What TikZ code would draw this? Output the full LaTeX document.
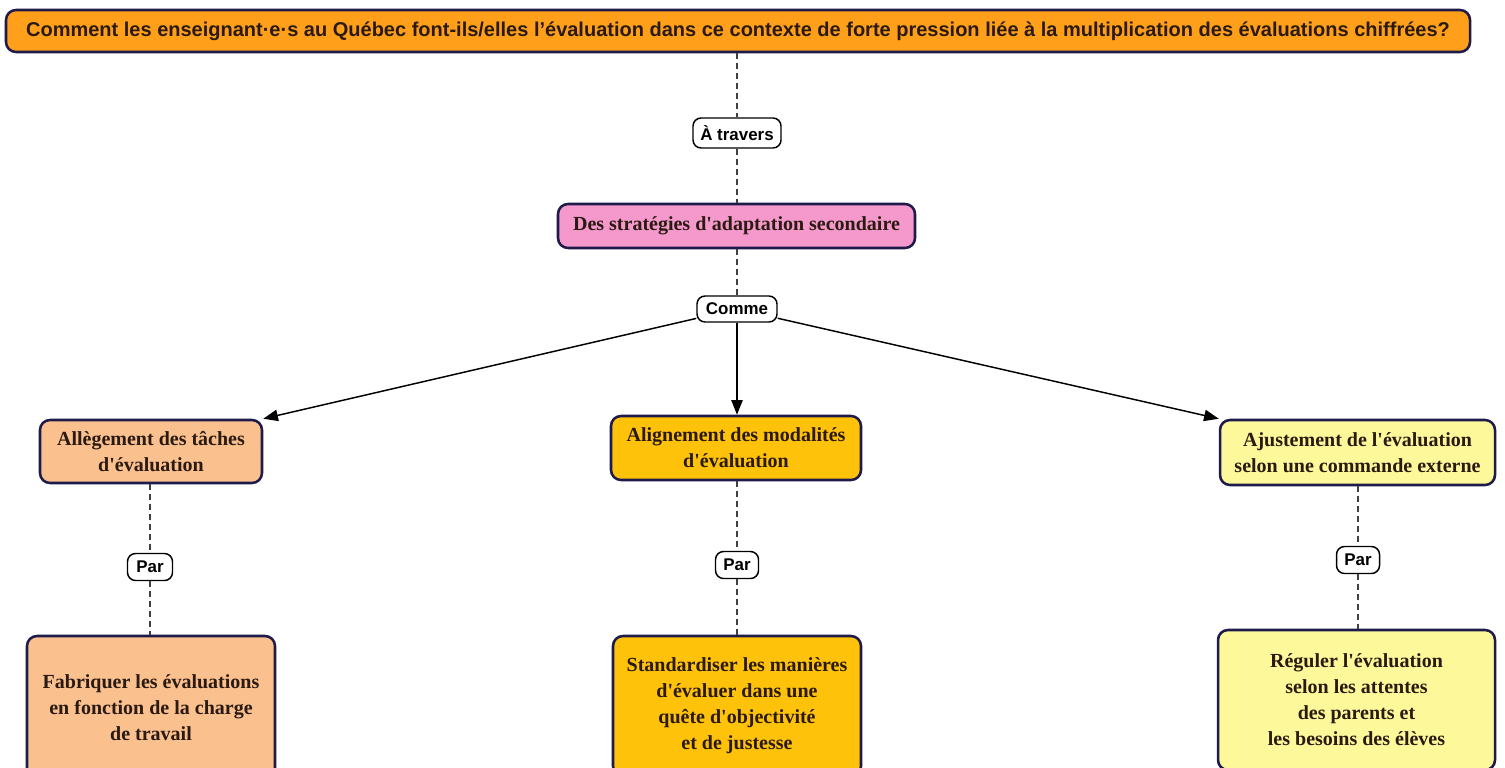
\documentclass[tikz,border=0pt]{standalone}
\usepackage{fontspec}
\setmainfont{Liberation Serif}
\setsansfont{Liberation Sans}
\usetikzlibrary{arrows.meta}
\newcommand\ap{\textquotesingle}
\definecolor{navy}{HTML}{1E1A4A}
\definecolor{qorange}{HTML}{FF9F1A}
\definecolor{qpink}{HTML}{F598CB}
\definecolor{qpeach}{HTML}{FAC08E}
\definecolor{qgold}{HTML}{FFC20A}
\definecolor{qyellow}{HTML}{FDF99A}
\definecolor{qtext}{HTML}{2A1A12}
\definecolor{dashgray}{HTML}{404040}
\tikzset{
  concept/.style={draw=navy, line width=1.9pt, rounded corners=7.5pt, align=center,
    text=qtext, font=\fontsize{15pt}{19.5pt}\selectfont\bfseries, inner sep=0pt},
  linkbox/.style={draw=black, line width=1.1pt, rounded corners=6pt, fill=white,
    font=\sffamily\bfseries\fontsize{12.7pt}{14pt}\selectfont, inner sep=0pt},
  dashlink/.style={draw=dashgray, line width=1.1pt, dash pattern=on 4.5pt off 3pt},
  arrowlink/.style={draw=black, line width=1.1pt, -{Triangle[length=11pt,width=8.5pt]}}
}
\begin{document}
\begin{tikzpicture}[x=0.75pt,y=-0.75pt]
\useasboundingbox (0,0) rectangle (1505,767);
\clip (0,0) rectangle (1505,767);
\fill[white] (0,0) rectangle (1505,767);
% top question
\node[concept, fill=qorange, font=\sffamily\bfseries\fontsize{15pt}{16pt}\selectfont,
  minimum width={1464*0.75pt}, minimum height={42*0.75pt}] (q) at (738,31)
  {Comment les enseignant·e·s au Québec font-ils/elles l’évaluation dans ce contexte de forte pression liée à la multiplication des évaluations chiffrées?};
\node[linkbox, minimum width={88*0.75pt}, minimum height={30*0.75pt}] (at) at (737,133) {À travers};
\node[concept, fill=qpink, minimum width={357*0.75pt}, minimum height={44*0.75pt}] (s) at (736.5,226) {Des stratégies d\ap adaptation secondaire};
\node[linkbox, minimum width={80*0.75pt}, minimum height={26*0.75pt}] (comme) at (737,309) {Comme};
% second row
\node[concept, fill=qpeach, minimum width={222*0.75pt}, minimum height={63*0.75pt}] (a1) at (151,451.5) {Allègement des tâches\\d\ap évaluation};
\node[concept, fill=qgold, minimum width={250*0.75pt}, minimum height={64*0.75pt}] (a2) at (736,448) {Alignement des modalités\\d\ap évaluation};
\node[concept, fill=qyellow, minimum width={275*0.75pt}, minimum height={65*0.75pt}] (a3) at (1357.5,452.5) {Ajustement de l\ap évaluation\\selon une commande externe};
% par labels
\node[linkbox, minimum width={45*0.75pt}, minimum height={27*0.75pt}] (p1) at (150,567) {Par};
\node[linkbox, minimum width={43*0.75pt}, minimum height={27*0.75pt}] (p2) at (737,565) {Par};
\node[linkbox, minimum width={43*0.75pt}, minimum height={27*0.75pt}] (p3) at (1358,560) {Par};
% bottom row
\node[concept, fill=qpeach, minimum width={248*0.75pt}, minimum height={144*0.75pt}] (b1) at (151,708) {Fabriquer les évaluations\\en fonction de la charge\\de travail};
\node[concept, fill=qgold, minimum width={248*0.75pt}, minimum height={140*0.75pt}] (b2) at (737,706) {Standardiser les manières\\d\ap évaluer dans une\\quête d\ap objectivité\\et de justesse};
\node[concept, fill=qyellow, minimum width={277*0.75pt}, minimum height={140*0.75pt}] (b3) at (1356.5,700) {Réguler l\ap évaluation\\selon les attentes\\des parents et\\les besoins des élèves};
% connectors
\draw[dashlink] (q.south -| at) -- (at.north);
\draw[dashlink] (at.south) -- (s.north -| at);
\draw[dashlink] (s.south -| comme) -- (comme.north);
\draw[arrowlink] (comme) -- (a1.north east);
\draw[arrowlink] (comme) -- (comme |- a2.north);
\draw[arrowlink] (comme) -- (a3.north west);
\draw[dashlink] (a1.south -| p1) -- (p1.north);
\draw[dashlink] (p1.south) -- (b1.north -| p1);
\draw[dashlink] (a2.south -| p2) -- (p2.north);
\draw[dashlink] (p2.south) -- (b2.north -| p2);
\draw[dashlink] (a3.south -| p3) -- (p3.north);
\draw[dashlink] (p3.south) -- (b3.north -| p3);
\end{tikzpicture}
\end{document}
